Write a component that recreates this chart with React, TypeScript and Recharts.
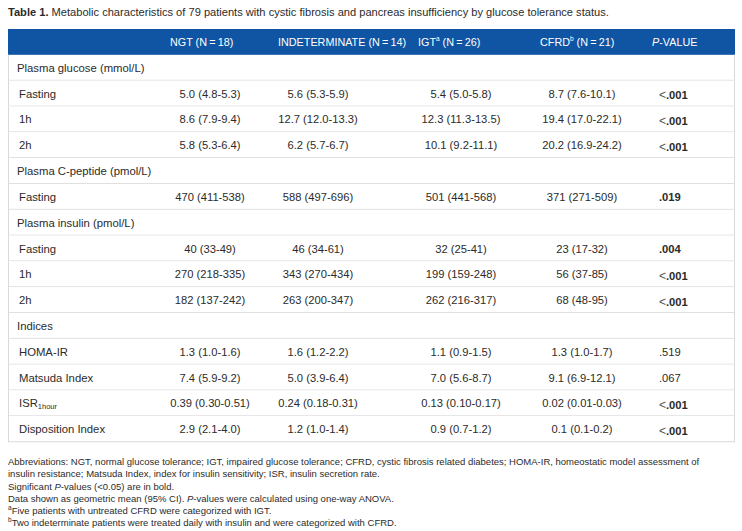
import React from "react";
import { BarChart, Bar, XAxis, YAxis } from "recharts";

// table body, one entry per row; section rows have empty values
const rowLabels = [
  "Plasma glucose (mmol/L)",
  "Fasting",
  "1h",
  "2h",
  "Plasma C-peptide (pmol/L)",
  "Fasting",
  "Plasma insulin (pmol/L)",
  "Fasting",
  "1h",
  "2h",
  "Indices",
  "HOMA-IR",
  "Matsuda Index",
  "ISR",
  "Disposition Index",
];
const labelSubscripts = ["", "", "", "", "", "", "", "", "", "", "", "", "", "1hour", ""];

const ngt = ["", "5.0 (4.8-5.3)", "8.6 (7.9-9.4)", "5.8 (5.3-6.4)", "", "470 (411-538)", "", "40 (33-49)", "270 (218-335)", "182 (137-242)", "", "1.3 (1.0-1.6)", "7.4 (5.9-9.2)", "0.39 (0.30-0.51)", "2.9 (2.1-4.0)"];
const indeterminate = ["", "5.6 (5.3-5.9)", "12.7 (12.0-13.3)", "6.2 (5.7-6.7)", "", "588 (497-696)", "", "46 (34-61)", "343 (270-434)", "263 (200-347)", "", "1.6 (1.2-2.2)", "5.0 (3.9-6.4)", "0.24 (0.18-0.31)", "1.2 (1.0-1.4)"];
const igt = ["", "5.4 (5.0-5.8)", "12.3 (11.3-13.5)", "10.1 (9.2-11.1)", "", "501 (441-568)", "", "32 (25-41)", "199 (159-248)", "262 (216-317)", "", "1.1 (0.9-1.5)", "7.0 (5.6-8.7)", "0.13 (0.10-0.17)", "0.9 (0.7-1.2)"];
const cfrd = ["", "8.7 (7.6-10.1)", "19.4 (17.0-22.1)", "20.2 (16.9-24.2)", "", "371 (271-509)", "", "23 (17-32)", "56 (37-85)", "68 (48-95)", "", "1.3 (1.0-1.7)", "9.1 (6.9-12.1)", "0.02 (0.01-0.03)", "0.1 (0.1-0.2)"];
const pValues = ["", "<.001", "<.001", "<.001", "", ".019", "", ".004", "<.001", "<.001", "", ".519", ".067", "<.001", "<.001"];
const significant = [false, true, true, true, false, true, false, true, true, true, false, false, false, true, true];

const groupNames = ["NGT", "INDETERMINATE", "IGT", "CFRD"];
const groupSup = ["", "", "a", "b"];
const groupN = [18, 14, 26, 21];

const FONT = '"Liberation Sans", Arial, Helvetica, sans-serif';
const BLUE = "#0f55a3";
const TEXT = "#2b2b2b";
const LINE = "#d9d9d9";

// horizontal layout inside the table (px from table's left edge)
const HEADER_X = [162, 270, 410, 532];
const P_HEADER_X = 644;
const VALUE_X = [202, 310, 453, 574];
const P_X = 651;

const columns = [ngt, indeterminate, igt, cfrd];

const tableRows = [
  { id: "header", kind: "header", span: 1, i: -1 },
  ...rowLabels.map((label, i) => ({
    id: `row${i}`,
    kind: ngt[i] === "" ? "section" : "data",
    label,
    span: 1,
    i,
  })),
];

const RowShape = (props: any) => {
  const { x, y, width, height, payload } = props;
  const cy = y + height / 2;
  if (payload.kind === "header") {
    return (
      <g fontFamily={FONT}>
        <rect x={x} y={y} width={width} height={height} fill={BLUE} />
        {groupNames.map((g, k) => (
          <text key={g} x={x + HEADER_X[k]} y={cy} fill="#fff" fontSize={10.8} dominantBaseline="central">
            {g}
            {groupSup[k] && (
              <tspan fontSize={6.5} dy={-4}>
                {groupSup[k]}
              </tspan>
            )}
            <tspan dy={groupSup[k] ? 4 : 0}>{` (N\u2009=\u2009${groupN[k]})`}</tspan>
          </text>
        ))}
        <text x={x + P_HEADER_X} y={cy} fill="#fff" fontSize={10.8} dominantBaseline="central">
          <tspan fontStyle="italic">P</tspan>-VALUE
        </text>
      </g>
    );
  }
  const i = payload.i;
  const isSection = payload.kind === "section";
  const p = pValues[i];
  const less = p.startsWith("<");
  return (
    <g fontFamily={FONT} fill={TEXT}>
      <rect x={x} y={y} width={width} height={height} fill="#fff" />
      <line x1={x + 0.5} y1={y} x2={x + 0.5} y2={y + height} stroke={LINE} />
      <line x1={x + width - 0.5} y1={y} x2={x + width - 0.5} y2={y + height} stroke={LINE} />
      <line x1={x} y1={y + height - 0.5} x2={x + width} y2={y + height - 0.5} stroke={LINE} />
      <text x={x + (isSection ? 9 : 11)} y={cy} fontSize={11.3} dominantBaseline="central">
        {payload.label}
        {labelSubscripts[i] && (
          <tspan fontSize={7.5} dy={3}>
            {labelSubscripts[i]}
          </tspan>
        )}
      </text>
      {!isSection &&
        columns.map((col, k) => (
          <text key={k} x={x + VALUE_X[k]} y={cy} fontSize={11.2} textAnchor="middle" dominantBaseline="central">
            {col[i]}
          </text>
        ))}
      {!isSection && (
        <text x={x + P_X} y={cy + (less ? 1.5 : 0)} fontSize={11.2} dominantBaseline="central">
          {less && (
            <tspan fontSize={12} fill="#555">
              {"<"}
            </tspan>
          )}
          <tspan fontWeight={significant[i] ? "bold" : "normal"}>{less ? p.slice(1) : p}</tspan>
        </text>
      )}
    </g>
  );
};

const footStyle: React.CSSProperties = { whiteSpace: "nowrap", height: 12.3 };
const sup: React.CSSProperties = { fontSize: 6.5, verticalAlign: "super", lineHeight: 0 };

export default function App() {
  return (
    <div style={{ position: "relative", width: 742, height: 531, background: "#fff", fontFamily: FONT, color: TEXT }}>
      <style>{"body{margin:0}"}</style>
      <div style={{ position: "absolute", left: 8, top: 6, fontSize: 11.1, whiteSpace: "nowrap" }}>
        <b>Table 1.</b> Metabolic characteristics of 79 patients with cystic fibrosis and pancreas insufficiency by
        glucose tolerance status.
      </div>
      <BarChart
        width={742}
        height={531}
        layout="vertical"
        data={tableRows}
        margin={{ top: 29, right: 7, bottom: 89, left: 8 }}
        barCategoryGap={0}
      >
        <XAxis type="number" domain={[0, 1]} hide />
        <YAxis type="category" dataKey="id" hide width={0} />
        <Bar dataKey="span" shape={RowShape} isAnimationActive={false} />
      </BarChart>
      <div style={{ position: "absolute", left: 8, top: 456, fontSize: 9.5, lineHeight: "12.3px" }}>
        <div style={footStyle}>
          Abbreviations: NGT, normal glucose tolerance; IGT, impaired glucose tolerance; CFRD, cystic fibrosis related
          diabetes; HOMA-IR, homeostatic model assessment of
        </div>
        <div style={footStyle}>
          insulin resistance; Matsuda Index, index for insulin sensitivity; ISR, insulin secretion rate.
        </div>
        <div style={footStyle}>
          Significant <i>P</i>-values (&lt;0.05) are in bold.
        </div>
        <div style={footStyle}>
          Data shown as geometric mean (95% CI). <i>P</i>-values were calculated using one-way ANOVA.
        </div>
        <div style={footStyle}>
          <span style={sup}>a</span>Five patients with untreated CFRD were categorized with IGT.
        </div>
        <div style={footStyle}>
          <span style={sup}>b</span>Two indeterminate patients were treated daily with insulin and were categorized with
          CFRD.
        </div>
      </div>
    </div>
  );
}
